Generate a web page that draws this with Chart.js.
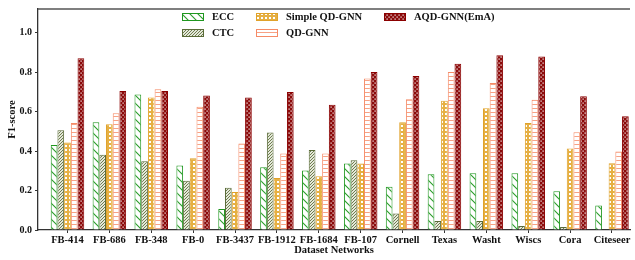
<!DOCTYPE html>
<html>
<head>
<meta charset="utf-8">
<script src="https://cdn.jsdelivr.net/npm/chart.js@4/dist/chart.umd.min.js"></script>
<style>
  html, body { margin: 0; padding: 0; background: #fff; }
  #wrap { width: 635px; height: 260px; position: relative; }
</style>
</head>
<body>
<div id="wrap"><canvas id="f1Chart"></canvas></div>
<script>
const datasetNames = ['FB-414', 'FB-686', 'FB-348', 'FB-0', 'FB-3437', 'FB-1912', 'FB-1684',
    'FB-107', 'Cornell', 'Texas', 'Washt', 'Wiscs', 'Cora', 'Citeseer'];
const eccScores    = [0.431, 0.546, 0.687, 0.327, 0.106, 0.318, 0.302, 0.337, 0.219, 0.282, 0.287, 0.287, 0.197, 0.124];
const ctcScores    = [0.506, 0.381, 0.348, 0.249, 0.214, 0.494, 0.405, 0.353, 0.083, 0.045, 0.045, 0.020, 0.015, 0.003];
const simpleScores = [0.443, 0.536, 0.672, 0.363, 0.192, 0.264, 0.272, 0.337, 0.546, 0.655, 0.617, 0.542, 0.413, 0.338];
const qdScores     = [0.542, 0.592, 0.713, 0.625, 0.438, 0.388, 0.388, 0.768, 0.662, 0.801, 0.745, 0.660, 0.496, 0.398];
const aqdScores    = [0.871, 0.705, 0.705, 0.682, 0.672, 0.700, 0.635, 0.801, 0.781, 0.842, 0.886, 0.879, 0.678, 0.577];
const yTicks = [0, 0.2, 0.4, 0.6, 0.8, 1.0];

const FONT = '"Liberation Serif", "Times New Roman", serif';

// small tile canvases used as hatch fills
function makePattern(kind) {
    const c = document.createElement('canvas');
    const g = c.getContext('2d');
    if (kind === 'ecc') {
        c.width = 8; c.height = 8;
        g.fillStyle = '#fff'; g.fillRect(0, 0, 8, 8);
        g.strokeStyle = '#2a9d2a'; g.lineWidth = 1.1;
        g.beginPath();
        g.moveTo(-1, -1); g.lineTo(9, 9);
        g.moveTo(-1, 7); g.lineTo(1, 9);
        g.moveTo(7, -1); g.lineTo(9, 1);
        g.stroke();
    } else if (kind === 'ctc') {
        c.width = 3; c.height = 3;
        g.fillStyle = '#e4e8da'; g.fillRect(0, 0, 3, 3);
        g.strokeStyle = '#6f7d4e'; g.lineWidth = 1;
        g.beginPath();
        g.moveTo(-1, 4); g.lineTo(4, -1);
        g.moveTo(-1, 1); g.lineTo(1, -1);
        g.moveTo(2, 4); g.lineTo(4, 2);
        g.stroke();
    } else if (kind === 'simple') {
        c.width = 4; c.height = 4;
        g.fillStyle = '#e6b043'; g.fillRect(0, 0, 4, 4);
        g.fillStyle = '#fff'; g.fillRect(1, 1, 2, 2);
    } else if (kind === 'qd') {
        c.width = 4; c.height = 4;
        g.fillStyle = '#fff'; g.fillRect(0, 0, 4, 4);
        g.fillStyle = '#f7a184';
        g.fillRect(0, 0, 4, 1);
    } else {
        c.width = 4; c.height = 4;
        g.fillStyle = '#8b0a0a'; g.fillRect(0, 0, 4, 4);
        g.fillStyle = '#fff';
        g.fillRect(0.5, 0.5, 1.2, 1.2);
        g.fillRect(2.5, 2.5, 1.2, 1.2);
    }
    return g.createPattern(c, 'repeat');
}

const ctx = document.getElementById('f1Chart').getContext('2d');

const series = [
    { label: 'ECC', data: eccScores, fill: makePattern('ecc'), border: '#1f971f' },
    { label: 'CTC', data: ctcScores, fill: makePattern('ctc'), border: '#5a6b38' },
    { label: 'Simple QD-GNN', data: simpleScores, fill: makePattern('simple'), border: '#e0a22a' },
    { label: 'QD-GNN', data: qdScores, fill: makePattern('qd'), border: '#f58a66' },
    { label: 'AQD-GNN(EmA)', data: aqdScores, fill: makePattern('aqd'), border: '#8b0000' }
];

// legend drawn like the matplotlib one (3 columns, column-major)
const legendSlots = [
    { x: 182, y: 17 }, { x: 182, y: 33 },
    { x: 256, y: 17 }, { x: 256, y: 33 },
    { x: 384, y: 17 }
];

const framePlugin = {
    id: 'frame',
    afterDraw(chart) {
        const c = chart.ctx;
        const a = chart.chartArea;
        c.save();
        c.strokeStyle = '#555';
        c.lineWidth = 1.3;
        c.beginPath();
        c.moveTo(a.left, a.top);
        c.lineTo(a.right, a.top);
        c.stroke();

        c.font = 'bold 10.5px ' + FONT;
        c.textBaseline = 'middle';
        c.textAlign = 'left';
        series.forEach((s, i) => {
            const p = legendSlots[i];
            c.fillStyle = s.fill;
            c.fillRect(p.x, p.y - 3.5, 22, 7);
            c.strokeStyle = s.border;
            c.lineWidth = 1;
            c.strokeRect(p.x + 0.5, p.y - 3.5, 21, 7);
            c.fillStyle = '#111';
            c.fillText(s.label, p.x + 30, p.y + 0.5);
        });
        c.restore();
    }
};

new Chart(ctx, {
    type: 'bar',
    data: {
        datasets: series.map(s => ({
            label: s.label,
            data: s.data.map((v, i) => ({ x: i, y: v })),
            backgroundColor: s.fill,
            borderColor: s.border,
            borderWidth: 1,
            categoryPercentage: 0.8,
            barPercentage: 1.0
        }))
    },
    options: {
        responsive: true,
        maintainAspectRatio: false,
        animation: false,
        layout: {
            padding: { top: 4, right: 5, left: 0, bottom: 0 }
        },
        scales: {
            x: {
                type: 'linear',
                offset: false,
                min: -0.704,
                max: 13.43,
                afterBuildTicks: function(scale) {
                    scale.ticks = datasetNames.map((n, i) => ({ value: i }));
                },
                afterFit: function(scale) {
                    scale.height = 30;
                },
                grid: {
                    offset: false,
                    drawOnChartArea: false,
                    drawTicks: true,
                    tickLength: 3,
                    color: '#333'
                },
                border: { color: '#333', width: 1.3 },
                ticks: {
                    autoSkip: false,
                    maxRotation: 0,
                    padding: 1,
                    color: '#111',
                    font: { family: FONT, size: 10.5, weight: 'bold' },
                    callback: function(value) {
                        return datasetNames[value];
                    }
                },
                title: {
                    display: true,
                    text: 'Dataset Networks',
                    color: '#111',
                    padding: { top: 0, bottom: 3 },
                    font: { family: FONT, size: 10.5, weight: 'bold' }
                }
            },
            y: {
                min: 0,
                max: 1.12,
                afterBuildTicks: function(scale) {
                    scale.ticks = yTicks.map(v => ({ value: v }));
                },
                afterFit: function(scale) {
                    scale.width = 38;
                },
                grid: {
                    drawOnChartArea: false,
                    drawTicks: true,
                    tickLength: 3,
                    color: '#333'
                },
                border: { color: '#333', width: 1.3 },
                ticks: {
                    padding: 3,
                    color: '#111',
                    font: { family: FONT, size: 10, weight: 'bold' },
                    callback: function(value) {
                        return value.toFixed(1);
                    }
                },
                title: {
                    display: true,
                    text: 'F1-score',
                    color: '#111',
                    padding: { top: 6, bottom: 0 },
                    font: { family: FONT, size: 10.5, weight: 'bold' }
                }
            }
        },
        plugins: {
            legend: { display: false },
            tooltip: { enabled: false }
        }
    },
    plugins: [framePlugin]
});
</script>
</body>
</html>
